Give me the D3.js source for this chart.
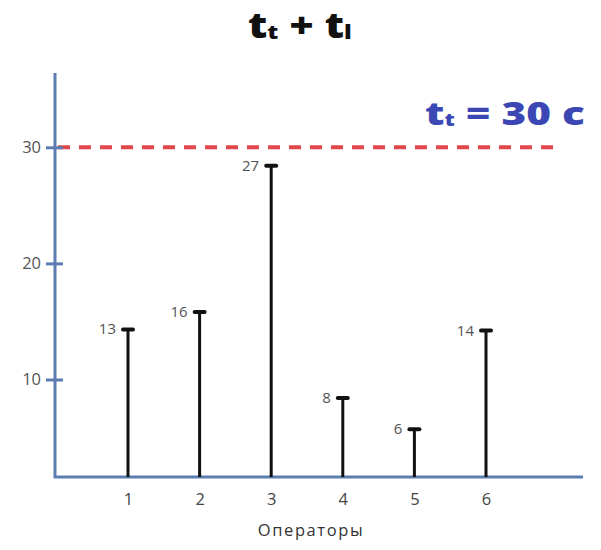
<!DOCTYPE html>
<html>
<head>
<meta charset="utf-8">
<script src="https://cdn.jsdelivr.net/npm/d3@7"></script>
<style>
  body { margin: 0; background: #fff; }
  text { font-family: "Open Sans", "Noto Sans", sans-serif; }
</style>
</head>
<body>
<div id="chart"></div>
<script>
// Data

var operators = [1, 2, 3, 4, 5, 6];
// stem heights as drawn in the picture
var heights = [14.4, 15.9, 28.5, 8.5, 5.8, 14.3];
// numbers written next to each stem
var valueLabels = ["13", "16", "27", "8", "6", "14"];
var yTicks = [10, 20, 30];
var taktTime = 30;
var yMin = 1.6, yMax = 36.4;

//Width and height of svg
var w = 601;
var h = 550;

// Scale functions

var xScale = d3.scaleLinear()
  .domain([1, 6])
  .range([128, 486]);

var yScale = d3.scaleLinear()
  .domain([yMin, yMax])
  .range([477, 73]);

var axisColor = "#5b7db1";

//Create SVG element
var svg = d3.select("div#chart")
  .append("svg")
    .attr("width", w)
    .attr("height", h);

svg.append("rect")
  .attr("width", w)
  .attr("height", h)
  .attr("fill", "#fff");

// Title (glyphs are drawn wide in the original, so stretch horizontally)

var title = svg.append("g")
  .attr("transform", "translate(248,38) scale(1.2,1)")
  .append("text")
  .attr("font-size", 35)
  .attr("font-weight", 800)
  .attr("fill", "#111");
title.append("tspan").text("t");
title.append("tspan").attr("font-size", 20).attr("dy", 1).text("t");
title.append("tspan").attr("dy", -1).text(" + t");
title.append("tspan").attr("font-size", 20).attr("dy", 1).text("l");

// Takt time line

svg.append("line")
  .attr("x1", 58)
  .attr("x2", 562)
  .attr("y1", yScale(taktTime))
  .attr("y2", yScale(taktTime))
  .attr("stroke", "#e2474b")
  .attr("stroke-width", 4)
  .attr("stroke-dasharray", "12 9");

var takt = svg.append("g")
  .attr("transform", "translate(425,125) scale(1.32,1)")
  .append("text")
  .attr("font-size", 32)
  .attr("font-weight", 800)
  .attr("fill", "#3b48b4");
takt.append("tspan").text("t");
takt.append("tspan").attr("font-size", 17).attr("dy", 1).text("t");
takt.append("tspan").attr("dy", -1).text(" = " + taktTime + " c");

// Axes

var yAxis = svg.append("g")
  .attr("transform", "translate(55,0)")
  .call(d3.axisLeft(yScale).tickValues(yTicks).tickSize(9).tickPadding(6));
yAxis.select(".domain").remove();
yAxis.selectAll(".tick line")
  .attr("x2", 8)
  .attr("x1", -9)
  .attr("stroke", axisColor)
  .attr("stroke-width", 3);
yAxis.selectAll(".tick text")
  .attr("x", -14)
  .attr("font-size", 16.5)
  .attr("fill", "#555")
  .style("font-family", "'Open Sans', sans-serif");

var xAxis = svg.append("g")
  .attr("transform", `translate(0,${yScale(yMin)})`)
  .call(d3.axisBottom(xScale).tickValues(operators).tickFormat(d3.format("d")).tickSize(0).tickPadding(16));
xAxis.select(".domain").remove();
xAxis.selectAll(".tick text")
  .attr("font-size", 16.5)
  .attr("fill", "#444")
  .style("font-family", "'Open Sans', sans-serif");

svg.append("path")
  .attr("d", `M55,${yScale(yMax)}V${yScale(yMin)}H583`)
  .attr("fill", "none")
  .attr("stroke", axisColor)
  .attr("stroke-width", 3);

svg.append("text")
  .attr("x", 311)
  .attr("y", 536)
  .attr("text-anchor", "middle")
  .attr("font-size", 16.5)
  .attr("letter-spacing", 1.6)
  .attr("fill", "#333")
  .text("Операторы");

// Stems

var stems = svg.selectAll("g.stem")
  .data(operators)
  .enter()
  .append("g")
  .classed("stem", true);

stems.append("line")
  .attr("x1", d => xScale(d))
  .attr("x2", d => xScale(d))
  .attr("y1", yScale(yMin))
  .attr("y2", (d, i) => yScale(heights[i]))
  .attr("stroke", "#111")
  .attr("stroke-width", 3);

stems.append("line")
  .attr("x1", d => xScale(d) - 5)
  .attr("x2", d => xScale(d) + 5)
  .attr("y1", (d, i) => yScale(heights[i]) + 1)
  .attr("y2", (d, i) => yScale(heights[i]) + 1)
  .attr("stroke", "#111")
  .attr("stroke-width", 4)
  .attr("stroke-linecap", "round");

stems.append("text")
  .attr("x", d => xScale(d) - 12)
  .attr("y", (d, i) => yScale(heights[i]) + 6)
  .attr("text-anchor", "end")
  .attr("font-size", 15)
  .attr("fill", "#555")
  .text((d, i) => valueLabels[i]);
</script>
</body>
</html>
